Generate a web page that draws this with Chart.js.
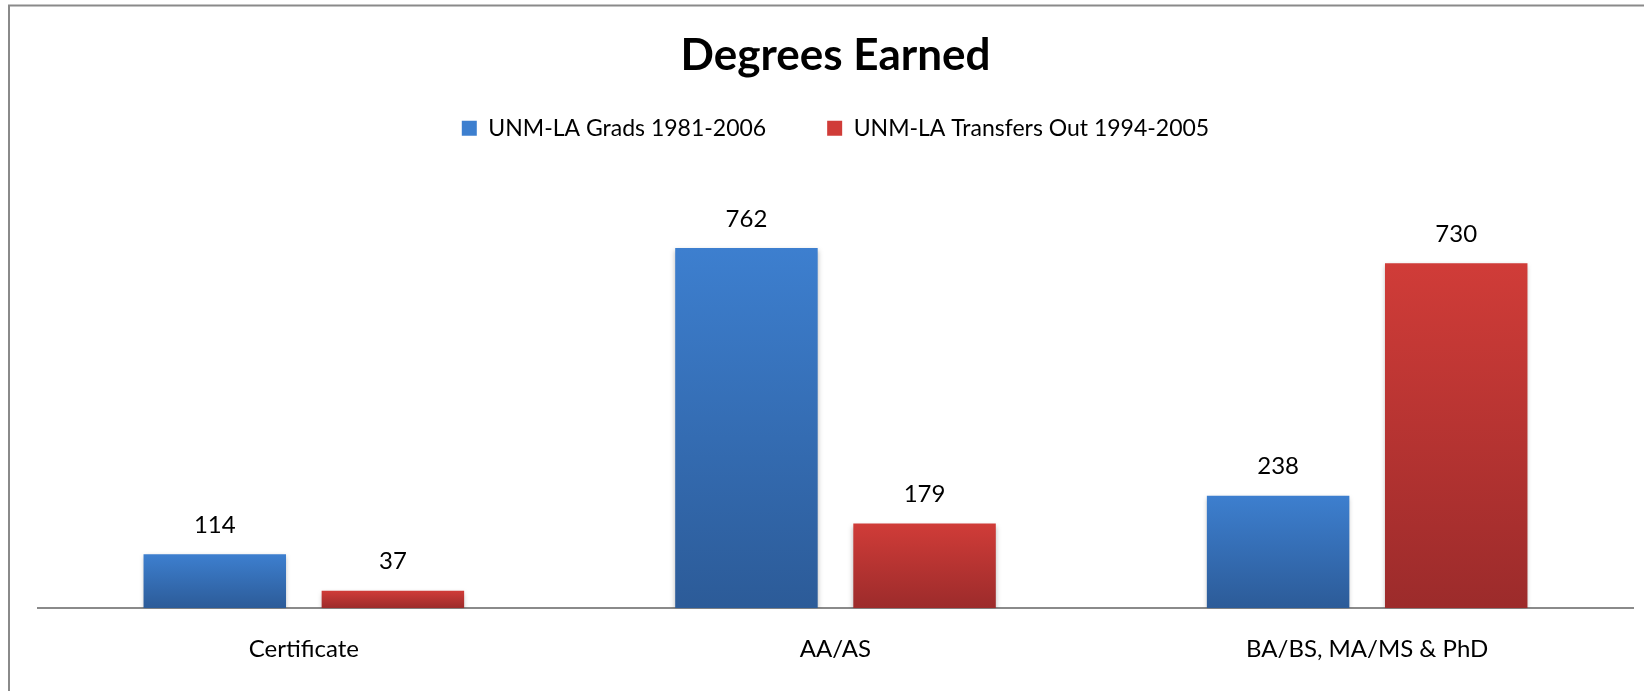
<!DOCTYPE html>
<html>
<head>
<meta charset="utf-8">
<script src="https://cdn.jsdelivr.net/npm/chart.js@4"></script>
<style>
  html, body { margin: 0; padding: 0; background: #fff; }
  #wrap { position: relative; width: 1644px; height: 691px; }
</style>
</head>
<body>
<div id="wrap"><canvas id="c"></canvas></div>
<script>
const categories = ['Certificate', 'AA/AS', 'BA/BS, MA/MS & PhD'];
const seriesNames = ['UNM-LA Grads 1981-2006', 'UNM-LA Transfers Out 1994-2005'];
const gradsValues = [114, 762, 238];
const transfersValues = [37, 179, 730];
const chartTitle = 'Degrees Earned';

const FONT = 'Lato';
const palette = [
  { top: '#3d7fcf', bottom: '#2c5b98', solid: '#3a78c4' },
  { top: '#d03c38', bottom: '#9c2b2b', solid: '#c0393a' }
];

function barFill(i) {
  return (ctx) => {
    const p = palette[i];
    if (ctx.type !== 'data' || !ctx.chart.chartArea || !ctx.chart.scales.y) return p.solid;
    const y = ctx.chart.scales.y;
    const t = y.getPixelForValue(ctx.raw);
    const b = y.getPixelForValue(0);
    if (!isFinite(t) || !isFinite(b) || t === b) return p.solid;
    const g = ctx.chart.ctx.createLinearGradient(0, t, 0, b);
    g.addColorStop(0, p.top);
    g.addColorStop(1, p.bottom);
    return g;
  };
}

const frameAndShadow = {
  id: 'frameAndShadow',
  beforeDraw(chart) {
    const c = chart.ctx;
    c.save();
    c.fillStyle = '#ffffff';
    c.fillRect(0, 0, chart.width, chart.height);
    c.strokeStyle = '#8a8a8a';
    c.lineWidth = 2;
    c.beginPath();
    c.moveTo(8, 5.5);
    c.lineTo(chart.width, 5.5);
    c.moveTo(9, 4.5);
    c.lineTo(9, chart.height);
    c.stroke();
    c.restore();
  },
  beforeDatasetsDraw(chart) {
    const c = chart.ctx;
    c.save();
    c.shadowColor = 'rgba(0,0,0,0.28)';
    c.shadowBlur = 5;
    c.shadowOffsetX = 0;
    c.shadowOffsetY = 2;
  },
  afterDatasetsDraw(chart) {
    chart.ctx.restore();
    const c = chart.ctx;
    c.save();
    c.fillStyle = '#000';
    c.font = '24px ' + FONT;
    c.textAlign = 'center';
    c.textBaseline = 'middle';
    chart.data.datasets.forEach((ds, di) => {
      const meta = chart.getDatasetMeta(di);
      meta.data.forEach((bar, i) => {
        c.fillText(String(ds.data[i]), bar.x, bar.y - 29);
      });
    });
    c.restore();
  }
};

new Chart(document.getElementById('c'), {
  type: 'bar',
  data: {
    labels: categories,
    datasets: [
      { label: seriesNames[0], data: gradsValues, backgroundColor: barFill(0), borderWidth: 0 },
      { label: seriesNames[1], data: transfersValues, backgroundColor: barFill(1), borderWidth: 0 }
    ]
  },
  options: {
    responsive: true,
    maintainAspectRatio: false,
    animation: false,
    datasets: { bar: { categoryPercentage: 0.67, barPercentage: 0.8 } },
    layout: { padding: { top: 0, left: 38, right: 11, bottom: 0 } },
    plugins: {
      title: {
        display: true,
        text: chartTitle,
        color: '#000',
        font: { family: FONT, size: 44, weight: 'bold', lineHeight: 1.2 },
        padding: { top: 29, bottom: -26 }
      },
      legend: {
        display: true,
        position: 'top',
        labels: {
          color: '#000',
          font: { family: FONT, size: 23 },
          boxWidth: 15,
          boxHeight: 15,
          padding: 61
        }
      },
      tooltip: { enabled: false }
    },
    scales: {
      x: {
        grid: { display: false, drawTicks: false },
        border: { display: true, color: '#8a8a8a', width: 2 },
        ticks: { color: '#000', font: { family: FONT, size: 24 }, padding: 27 }
      },
      y: {
        display: false,
        min: 0,
        max: 970
      }
    }
  },
  plugins: [frameAndShadow]
});
</script>
</body>
</html>
